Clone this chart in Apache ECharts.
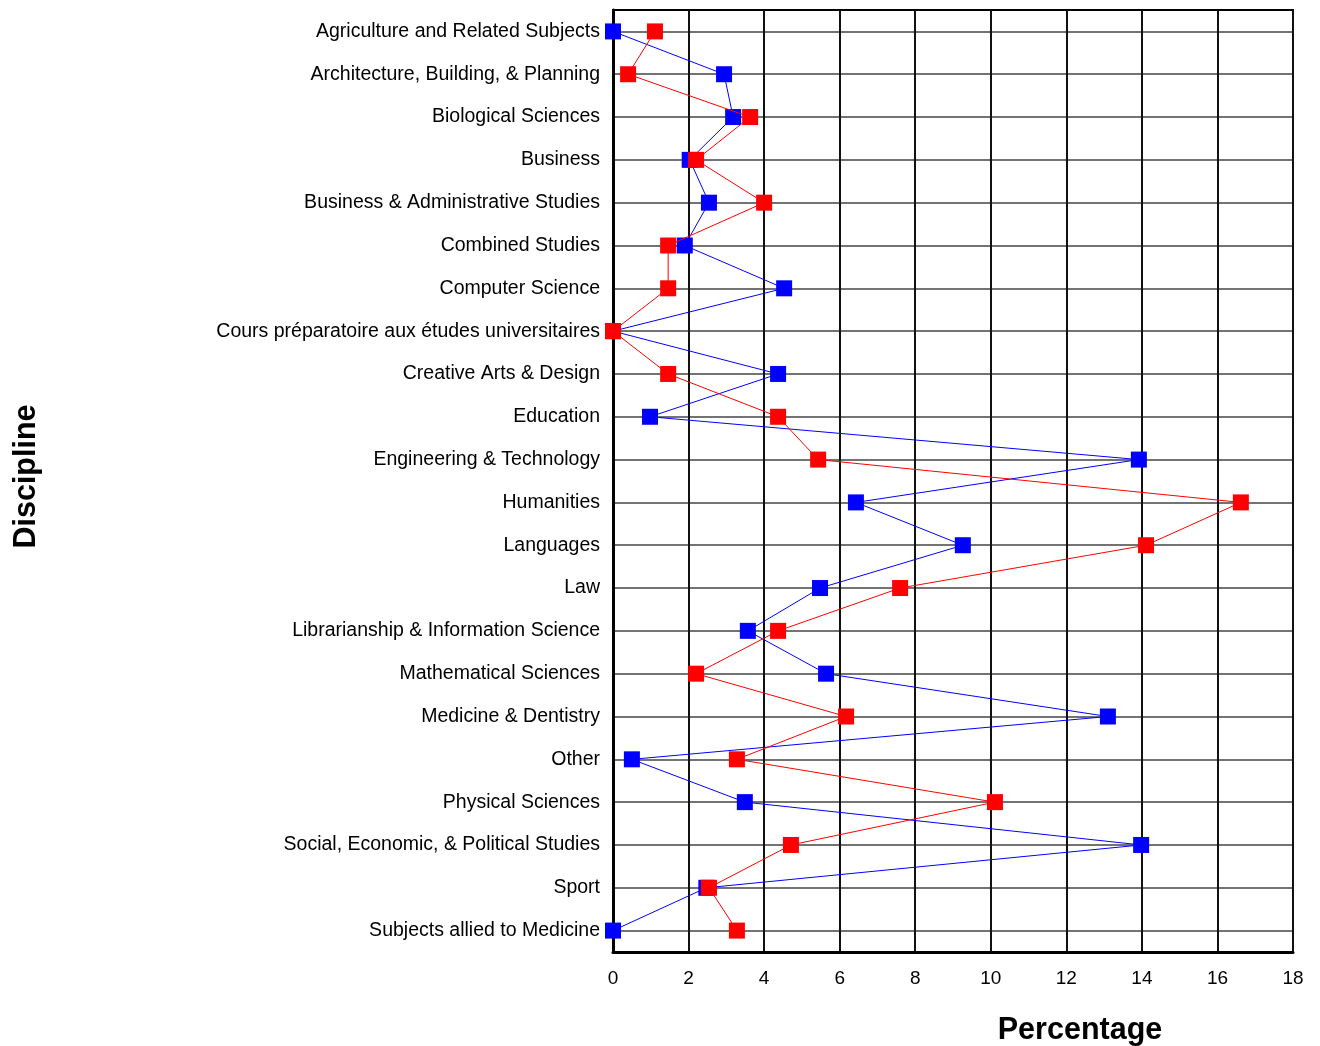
<!DOCTYPE html>
<html>
<head>
<meta charset="utf-8">
<script src="https://cdn.jsdelivr.net/npm/echarts@6/dist/echarts.min.js"></script>
<style>html,body{margin:0;padding:0;background:#fff}#c{width:1320px;height:1046px}</style>
</head>
<body>
<div id="c"></div>
<script>
var categories = [
  "Agriculture and Related Subjects",
  "Architecture, Building, & Planning",
  "Biological Sciences",
  "Business",
  "Business & Administrative Studies",
  "Combined Studies",
  "Computer Science",
  "Cours préparatoire aux études universitaires",
  "Creative Arts & Design",
  "Education",
  "Engineering & Technology",
  "Humanities",
  "Languages",
  "Law",
  "Librarianship & Information Science",
  "Mathematical Sciences",
  "Medicine & Dentistry",
  "Other",
  "Physical Sciences",
  "Social, Economic, & Political Studies",
  "Sport",
  "Subjects allied to Medicine"
];
var blueValues = [0, 2.94, 3.18, 2.03, 2.54, 1.9, 4.53, 0, 4.37, 0.98, 13.92, 6.43, 9.26, 5.48, 3.57, 5.64, 13.1, 0.5, 3.49, 13.98, 2.47, 0];
var redValues  = [1.11, 0.4, 3.63, 2.2, 4.0, 1.46, 1.46, 0, 1.46, 4.37, 5.43, 16.62, 14.11, 7.6, 4.37, 2.2, 6.17, 3.28, 10.11, 4.71, 2.54, 3.28];
var xTicks = [0, 2, 4, 6, 8, 10, 12, 14, 16, 18];

var font = "'Liberation Sans', Arial, sans-serif";
var chart = echarts.init(document.getElementById('c'));
chart.setOption({
  animation: false,
  grid: { left: 613, right: 27, top: 10, bottom: 94, containLabel: false, outerBoundsMode: 'none',
          show: true, borderColor: '#000', borderWidth: 2, backgroundColor: 'transparent' },
  xAxis: {
    type: 'value',
    min: xTicks[0], max: xTicks[xTicks.length - 1], interval: 2,
    name: 'Percentage', nameLocation: 'middle', nameGap: 63,
    nameTextStyle: { fontFamily: font, fontSize: 30.5, fontWeight: 'bold', color: '#000', padding: [0, 0, 0, 254] },
    axisLine: { show: true, lineStyle: { color: '#000', width: 3 } },
    axisTick: { show: false },
    axisLabel: { fontFamily: font, fontSize: 19, color: '#000', margin: 17 },
    splitLine: { show: true, lineStyle: { color: '#111', width: 2 } }
  },
  yAxis: {
    type: 'category', data: categories, inverse: true,
    name: 'Discipline', nameLocation: 'middle', nameGap: 571, nameRotate: 90,
    nameTextStyle: { fontFamily: font, fontSize: 30.5, fontWeight: 'bold', color: '#000', padding: [0, 0, 0, 9] },
    axisLine: { show: true, lineStyle: { color: '#000', width: 3 } },
    axisTick: { show: false },
    axisLabel: { fontFamily: font, fontSize: 19.5, color: '#000', margin: 13, interval: 0 },
    splitLine: { show: true, alignWithLabel: true, interval: 0, lineStyle: { color: '#444', width: 1.6 } }
  },
  series: [
    { name: 'Blue', type: 'line', data: blueValues, symbol: 'rect', symbolSize: 16,
      itemStyle: { color: '#0000ff' }, lineStyle: { color: '#0000ff', width: 1 }, z: 3 },
    { name: 'Red', type: 'line', data: redValues, symbol: 'rect', symbolSize: 16,
      itemStyle: { color: '#ff0000' }, lineStyle: { color: '#ff0000', width: 1 }, z: 4 }
  ]
});
</script>
</body>
</html>
